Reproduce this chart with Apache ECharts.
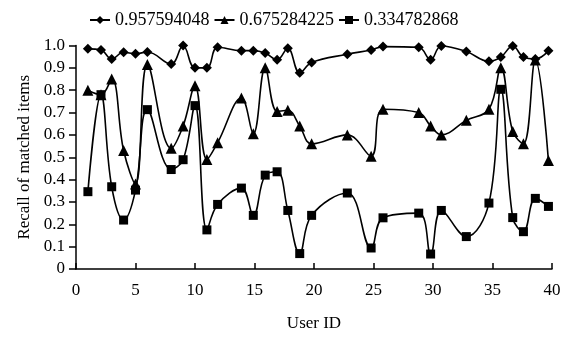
<!DOCTYPE html>
<html>
<head>
<meta charset="utf-8">
<script src="https://cdn.jsdelivr.net/npm/echarts@6/dist/echarts.min.js"></script>
<style>
  html, body { margin: 0; padding: 0; background: #fff; }
  #chart { width: 565px; height: 337px; }
</style>
</head>
<body>
<div id="chart"></div>
<script>
// user ids (x positions)
const userIds = [1, 2.1, 3, 4, 5, 6, 8, 9, 10, 11, 11.9, 13.9, 14.9, 15.9, 16.9, 17.8, 18.8, 19.8,
  22.8, 24.8, 25.8, 28.8, 29.8, 30.7, 32.8, 34.7, 35.7, 36.7, 37.6, 38.6, 39.7];

const seriesNames = ['0.957594048', '0.675284225', '0.334782868'];

const recallHigh = [0.985, 0.98, 0.94, 0.97, 0.963, 0.971, 0.917, 1.0, 0.90, 0.90, 0.992, 0.977, 0.977,
  0.966, 0.936, 0.988, 0.878, 0.924, 0.961, 0.98, 0.995, 0.992, 0.936, 0.998, 0.973, 0.929, 0.948,
  0.998, 0.948, 0.94, 0.976];

const recallMid = [0.80, 0.78, 0.85, 0.53, 0.38, 0.915, 0.54, 0.64, 0.82, 0.49, 0.565, 0.765, 0.605,
  0.90, 0.705, 0.71, 0.64, 0.56, 0.60, 0.505, 0.715, 0.70, 0.64, 0.60, 0.665, 0.715, 0.90, 0.615,
  0.56, 0.935, 0.485];

const recallLow = [0.346, 0.78, 0.368, 0.219, 0.353, 0.713, 0.445, 0.489, 0.731, 0.175, 0.289, 0.362,
  0.24, 0.42, 0.435, 0.262, 0.069, 0.24, 0.34, 0.094, 0.229, 0.25, 0.067, 0.262, 0.145, 0.295,
  0.804, 0.23, 0.167, 0.316, 0.28];

const chart = echarts.init(document.getElementById('chart'));
const font = '"Liberation Serif", "Times New Roman", serif';

function pairs(ys) {
  return userIds.map((x, i) => [x, ys[i]]);
}

function makeSeries(name, ys, symbol, size) {
  return {
    name: name,
    type: 'line',
    data: pairs(ys),
    smooth: 0.4,
    symbol: symbol,
    symbolSize: size,
    showAllSymbol: true,
    lineStyle: { color: '#000', width: 1.6 },
    itemStyle: { color: '#000' },
    emphasis: { disabled: true }
  };
}

const option = {
  animation: false,
  backgroundColor: '#fff',
  textStyle: { fontFamily: font, color: '#000' },
  legend: {
    left: 84,
    top: 6,
    itemWidth: 20,
    itemHeight: 10,
    itemGap: 4,
    textStyle: { fontFamily: font, fontSize: 18, color: '#000' },
    data: seriesNames
  },
  grid: { left: 76, right: 13, top: 45.5, bottom: 64 },
  xAxis: {
    type: 'value',
    min: 0,
    max: 40,
    interval: 5,
    name: 'User ID',
    nameLocation: 'middle',
    nameGap: 46,
    nameTextStyle: { fontFamily: font, fontSize: 17, color: '#000' },
    axisLine: { lineStyle: { color: '#000', width: 1.5 } },
    axisTick: { inside: true, length: 6, lineStyle: { color: '#000', width: 1.5 } },
    axisLabel: { fontFamily: font, fontSize: 17, color: '#000', margin: 13 },
    splitLine: { show: false }
  },
  yAxis: {
    type: 'value',
    min: 0,
    max: 1,
    interval: 0.1,
    name: 'Recall of matched items',
    nameLocation: 'middle',
    nameGap: 42,
    nameTextStyle: { fontFamily: font, fontSize: 17, color: '#000' },
    axisLine: { show: true, lineStyle: { color: '#000', width: 1.5 } },
    axisTick: { show: true, length: 7, lineStyle: { color: '#000', width: 1.5 } },
    axisLabel: {
      fontFamily: font, fontSize: 17, color: '#000', margin: 11,
      formatter: v => (v === 0 ? '0' : v.toFixed(1))
    },
    splitLine: { show: false }
  },
  series: [
    makeSeries(seriesNames[0], recallHigh, 'diamond', 10),
    makeSeries(seriesNames[1], recallMid, 'triangle', 11),
    makeSeries(seriesNames[2], recallLow, 'rect', 9)
  ]
};

chart.setOption(option);
</script>
</body>
</html>
